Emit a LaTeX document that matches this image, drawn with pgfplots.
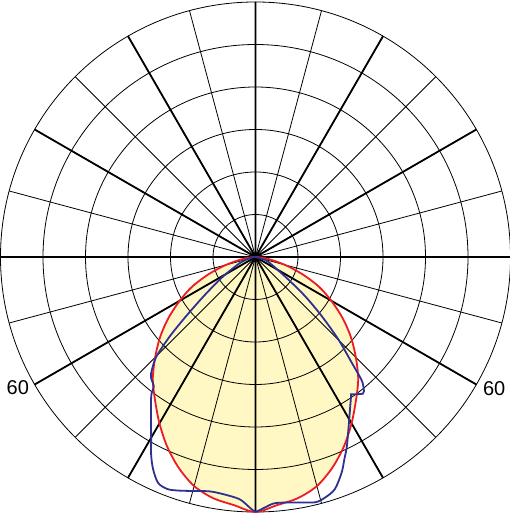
\documentclass[border=0pt]{standalone}
\usepackage{pgfplots}
\pgfplotsset{compat=1.18}
\usepgfplotslibrary{polar}
\usepackage{fontspec}
\setmainfont{Liberation Sans}

\definecolor{curvered}{RGB}{237,28,36}
\definecolor{curveblue}{RGB}{46,49,146}
\definecolor{fillyellow}{RGB}{255,248,196}

\begin{document}
\begin{tikzpicture}
\begin{polaraxis}[
    set layers,
    scale only axis,
    width=510pt, height=510pt,
    ymin=0, ymax=6,
    xtick={0,15,...,345},
    ytick={1,2,3,4,5},
    xticklabel=\empty, yticklabel=\empty,
    tick label style={overlay},
    major tick length=0pt,
    grid=major,
    major grid style={black, line width=0.8pt},
    axis line style={black, line width=0.8pt},
    extra x ticks={0,30,...,330},
    extra x tick labels={},
    extra x tick style={grid=major, major grid style={black, line width=1.8pt}, major tick length=0pt},
    clip=false,
]
% light distribution, plane C0-C180 (filled)
\addplot[fill=fillyellow, draw=none, smooth, on layer=axis background] coordinates {
    (180,0) (185,0.12) (190,0.36) (195,0.72) (200,1.16) (205,1.64) (210,2.06)
    (215,2.50) (220,2.93) (225,3.34) (230,3.76) (235,4.12) (240,4.52) (245,4.92)
    (250,5.28) (255,5.58) (260,5.76) (265,5.86) (270,6.00)
    (275,5.86) (280,5.76) (285,5.58) (290,5.28) (295,4.92) (300,4.52) (305,4.12)
    (310,3.76) (315,3.34) (320,2.93) (325,2.50) (330,2.06) (335,1.64) (340,1.16)
    (345,0.72) (350,0.36) (355,0.12) (360,0)
};
\addplot[curvered, line width=1.8pt, smooth] coordinates {
    (180,0) (185,0.12) (190,0.36) (195,0.72) (200,1.16) (205,1.64) (210,2.06)
    (215,2.50) (220,2.93) (225,3.34) (230,3.76) (235,4.12) (240,4.52) (245,4.92)
    (250,5.28) (255,5.58) (260,5.76) (265,5.86) (270,6.00)
    (275,5.86) (280,5.76) (285,5.58) (290,5.28) (295,4.92) (300,4.52) (305,4.12)
    (310,3.76) (315,3.34) (320,2.93) (325,2.50) (330,2.06) (335,1.64) (340,1.16)
    (345,0.72) (350,0.36) (355,0.12) (360,0)
};
% plane C90-C270
\addplot[curveblue, line width=1.8pt, smooth] coordinates {
    (180,0) (190,0.12) (201.5,0.40) (211.1,0.90) (216.4,1.43) (219.3,1.90)
    (220.9,2.25) (222.8,2.75) (225.1,3.30) (227.4,3.60) (229,3.75) (231.8,3.87)
    (232.6,4.02) (233.7,4.15) (237.2,4.54) (240.2,4.94) (242.1,5.25) (244.2,5.54)
    (246.7,5.79) (249.3,5.84) (252,5.78) (255.4,5.69) (258.9,5.62) (262.1,5.63)
    (266.2,5.71) (268.6,5.89) (270,5.99)
    (272.3,5.89) (274.6,5.81) (279.2,5.85) (283.7,5.94) (286.2,5.89) (288.9,5.77)
    (291.8,5.46) (293.7,5.20) (295.8,4.94) (300,4.41) (304.4,3.98) (305.1,3.95)
    (308.2,4.09) (309.6,3.99) (310.8,3.81) (312.3,3.37) (315.1,2.76) (318.2,2.10)
    (321.6,1.50) (325.4,0.95) (334.4,0.43) (343,0.24) (360,0)
};
\node[anchor=east, inner sep=0pt, font=\fontsize{20}{20}\selectfont, xshift=-5.5pt, yshift=-3pt] at (axis cs:210,6) {60};
\node[anchor=west, inner sep=0pt, font=\fontsize{20}{20}\selectfont, xshift=6.5pt, yshift=-4pt] at (axis cs:330,6) {60};
\coordinate (c) at (axis cs:0,0);
\end{polaraxis}
\pgfresetboundingbox
\path (c) ++(-255.5pt,-259pt) rectangle ++(510pt,516pt);
\end{tikzpicture}
\end{document}
